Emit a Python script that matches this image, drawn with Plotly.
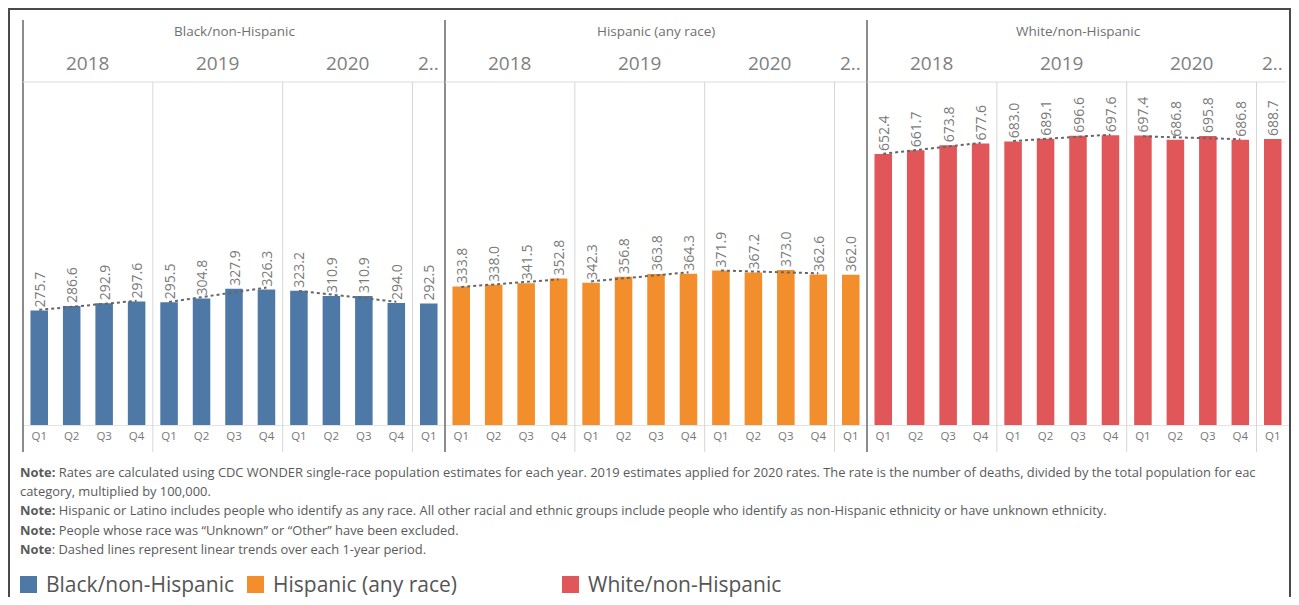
import numpy as np
import plotly.graph_objects as go
from plotly.subplots import make_subplots

# data
groups = ['Black/non-Hispanic', 'Hispanic (any race)', 'White/non-Hispanic']
colors = ['#4e79a7', '#f28e2b', '#e15759']
years = ['2018', '2019', '2020', '2..']
quarters = ['Q1', 'Q2', 'Q3', 'Q4', 'Q1', 'Q2', 'Q3', 'Q4', 'Q1', 'Q2', 'Q3', 'Q4', 'Q1']
year_of_bar = [0, 0, 0, 0, 1, 1, 1, 1, 2, 2, 2, 2, 3]

black = [275.7, 286.6, 292.9, 297.6, 295.5, 304.8, 327.9, 326.3, 323.2, 310.9, 310.9, 294.0, 292.5]
hispanic = [333.8, 338.0, 341.5, 352.8, 342.3, 356.8, 363.8, 364.3, 371.9, 367.2, 373.0, 362.6, 362.0]
white = [652.4, 661.7, 673.8, 677.6, 683.0, 689.1, 696.6, 697.6, 697.4, 686.8, 695.8, 686.8, 688.7]
series = [black, hispanic, white]

notes = [
    '<b>Note:</b> Rates are calculated using CDC WONDER single-race population estimates for each year. '
    '2019 estimates applied for 2020 rates. The rate is the number of deaths, divided by the total population for eac',
    'category, multiplied by 100,000.',
    '<b>Note:</b> Hispanic or Latino includes people who identify as any race. All other racial and ethnic '
    'groups include people who identify as non-Hispanic ethnicity or have unknown ethnicity.',
    '<b>Note:</b> People whose race was \u201cUnknown\u201d or \u201cOther\u201d have been excluded.',
    '<b>Note</b>: Dashed lines represent linear trends over each 1-year period.',
]

# page geometry (pixels, page coordinates); the page body adds an 8px offset,
# so the figure is kept small enough not to overflow the window
OFF = 8
W_PX, H_PX = 1299 - 2 * OFF, 605 - 2 * OFF
L, R = 23, 1289        # plot area left / right
T, B = 82, 425         # plot area top / bottom
PW, PH = R - L, B - T
FONT = 'Open Sans'


def px_x(px):
    return (px - L) / PW


def px_y(py):
    return (B - py) / PH


fig = make_subplots(rows=1, cols=3, shared_yaxes=True, horizontal_spacing=0)

x_idx = np.arange(len(quarters))
for g, (name, vals, col) in enumerate(zip(groups, series, colors)):
    c = g + 1
    fig.add_trace(
        go.Bar(
            x=x_idx,
            y=vals,
            name=name,
            marker=dict(color=col, line=dict(width=0)),
            width=0.54,
            texttemplate='%{y:.1f}',
            textposition='outside',
            textangle=-90,
            constraintext='none',
            cliponaxis=False,
            textfont=dict(size=14, color='#7a7a7a', family=FONT),
            showlegend=False,
            hoverinfo='skip',
        ),
        row=1, col=c
    )

    # linear trend over each full year
    vals = np.array(vals)
    yb = np.array(year_of_bar)
    for yr in range(3):
        xs = x_idx[yb == yr]
        ys = vals[yb == yr]
        k, b0 = np.polyfit(xs, ys, 1)
        fig.add_trace(
            go.Scatter(
                x=xs,
                y=k * xs + b0,
                mode='lines',
                line=dict(color='#666666', width=2, dash='dot'),
                showlegend=False,
                hoverinfo='skip',
                cliponaxis=False,
            ),
            row=1, col=c
        )

    fig.update_xaxes(
        range=[-0.5, 12.5],
        tickvals=list(x_idx),
        ticktext=quarters,
        tickfont=dict(size=11.5, color='#777777', family=FONT),
        showgrid=False,
        zeroline=False,
        showline=True,
        linecolor='#e3e3e3',
        linewidth=1,
        ticks='',
        automargin=False,
        fixedrange=True,
        row=1, col=c
    )

fig.update_yaxes(range=[0, 826], visible=False, showgrid=False, fixedrange=True)

shapes = []
annotations = []
panel_w = PW / 3

for g, name in enumerate(groups):
    xref = 'x' if g == 0 else 'x%d' % (g + 1)
    left = L + g * panel_w

    # panel divider
    shapes.append(dict(type='line', xref='paper', yref='paper',
                       x0=px_x(left), x1=px_x(left), y0=px_y(20), y1=px_y(452),
                       line=dict(color='#8c8c8c', width=2)))
    # header bottom line
    right_px = min(left + panel_w, 1286)
    shapes.append(dict(type='line', xref='paper', yref='paper',
                       x0=px_x(left), x1=px_x(right_px), y0=1, y1=1,
                       line=dict(color='#dcdcdc', width=1)))
    # year dividers
    for xv in [3.5, 7.5, 11.5]:
        shapes.append(dict(type='line', xref=xref, yref='paper',
                           x0=xv, x1=xv, y0=1, y1=px_y(452),
                           line=dict(color='#d6d6d6', width=1)))

    # group title
    annotations.append(dict(text=name, xref=xref, yref='paper', x=6, y=px_y(31),
                            xanchor='center', yanchor='middle', showarrow=False,
                            font=dict(size=13.5, color='#707070', family=FONT)))
    # year labels
    for yi, ylab in enumerate(years):
        xs = [i for i, v in enumerate(year_of_bar) if v == yi]
        annotations.append(dict(text=ylab, xref=xref, yref='paper',
                                x=float(np.mean(xs)), y=px_y(63),
                                xanchor='center', yanchor='middle', showarrow=False,
                                font=dict(size=19, color='#808080', family=FONT)))

# outer frame (top edge as high as the page offset allows)
shapes.append(dict(type='rect', xref='paper', yref='paper',
                   x0=px_x(9), x1=px_x(1290), y0=px_y(9), y1=px_y(640),
                   line=dict(color='#4a4a4a', width=2)))

# notes
note_y = [472, 491, 510, 530, 549]
for txt, ny in zip(notes, note_y):
    annotations.append(dict(text=txt, xref='paper', yref='paper', x=px_x(18), y=px_y(ny),
                            xanchor='left', yanchor='middle', showarrow=False, align='left',
                            font=dict(size=12.9, color='#5a5a5a', family=FONT)))

# legend: coloured squares with labels
legend_x = [20, 247, 562]
for name, col, lx in zip(groups, colors, legend_x):
    shapes.append(dict(type='rect', xref='paper', yref='paper',
                       x0=px_x(lx), x1=px_x(lx + 17), y0=px_y(576), y1=px_y(593),
                       fillcolor=col, line=dict(width=0)))
    annotations.append(dict(text=name, xref='paper', yref='paper', x=px_x(lx + 24), y=px_y(584),
                            xanchor='left', yanchor='middle', showarrow=False,
                            font=dict(size=21, color='#555555', family=FONT)))

fig.update_layout(
    width=W_PX,
    height=H_PX,
    margin=dict(l=L - OFF, r=W_PX - (R - OFF), t=T - OFF, b=H_PX - (B - OFF)),
    paper_bgcolor='white',
    plot_bgcolor='white',
    font=dict(family=FONT, color='#555555'),
    showlegend=False,
    shapes=shapes,
    annotations=annotations,
)

fig.write_html('out.html')
